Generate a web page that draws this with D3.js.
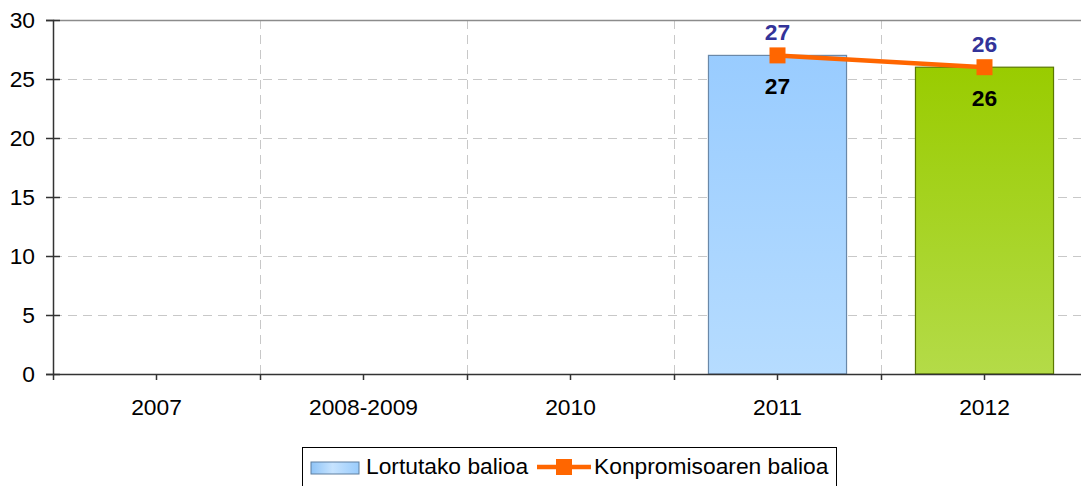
<!DOCTYPE html>
<html>
<head>
<meta charset="utf-8">
<script src="https://cdn.jsdelivr.net/npm/d3@7"></script>
<style>
  html, body { margin: 0; padding: 0; background: #fff; }
  svg { display: block; font-family: "Liberation Sans", Arial, sans-serif; }
</style>
</head>
<body>
<svg id="chart" width="1081" height="486"></svg>
<script>
// Chart data
const categories = ["2007", "2008-2009", "2010", "2011", "2012"];
const achievedValues = [null, null, null, 27, 26];     // Lortutako balioa (bars)
const commitmentValues = [null, null, null, 27, 26];   // Konpromisoaren balioa (line)
const yTickValues = [0, 5, 10, 15, 20, 25, 30];
const seriesNames = ["Lortutako balioa", "Konpromisoaren balioa"];

// Styling
const fontSize = 22.8;
const barFills = {
  "2011": { top: "#99CCFF", bottom: "#B6DCFF", stroke: "#6A88A8" },
  "2012": { top: "#99CC00", bottom: "#B4DB48", stroke: "#5A7800" }
};
const lineColor = "#FF6600";
const lineLabelColor = "#333399";

const svg = d3.select("#chart");
const margin = { left: 53, top: 20, right: 1088, bottom: 374 };

const x = d3.scaleBand().domain(categories).range([margin.left, margin.right]).padding(0);
const y = d3.scaleLinear().domain([0, 30]).range([margin.bottom, margin.top]);

const defs = svg.append("defs");
Object.entries(barFills).forEach(([key, c]) => {
  const g = defs.append("linearGradient").attr("id", "grad-" + key)
    .attr("x1", 0).attr("y1", 0).attr("x2", 0).attr("y2", 1);
  g.append("stop").attr("offset", "0%").attr("stop-color", c.top);
  g.append("stop").attr("offset", "100%").attr("stop-color", c.bottom);
});
const lg = defs.append("linearGradient").attr("id", "legend-grad")
  .attr("x1", 0).attr("y1", 0).attr("x2", 1).attr("y2", 0);
lg.append("stop").attr("offset", "0%").attr("stop-color", "#8FC4F7");
lg.append("stop").attr("offset", "45%").attr("stop-color", "#C6E3FF");
lg.append("stop").attr("offset", "100%").attr("stop-color", "#9ACCFC");

// Gridlines
const grid = svg.append("g");
grid.selectAll("line.h").data(yTickValues.filter(v => v > 0 && v < 30)).enter()
  .append("line")
  .attr("x1", margin.left).attr("x2", margin.right)
  .attr("y1", d => y(d) + 0.5).attr("y2", d => y(d) + 0.5)
  .attr("stroke", "#C8C8C8").attr("stroke-width", 1).attr("stroke-dasharray", "9,6");
grid.selectAll("line.v").data(categories.slice(1)).enter()
  .append("line")
  .attr("x1", d => Math.round(x(d)) + 0.5).attr("x2", d => Math.round(x(d)) + 0.5)
  .attr("y1", y(30)).attr("y2", y(0))
  .attr("stroke", "#C8C8C8").attr("stroke-width", 1).attr("stroke-dasharray", "9,6");
// Plot area top border
svg.append("line")
  .attr("x1", margin.left).attr("x2", margin.right)
  .attr("y1", y(30) + 0.5).attr("y2", y(30) + 0.5)
  .attr("stroke", "#8C8C8C").attr("stroke-width", 1.5);

// Bars
const barW = x.bandwidth() * 0.667;
const barData = categories.map((c, i) => ({ c, v: achievedValues[i] })).filter(d => d.v != null);
svg.append("g").selectAll("rect").data(barData).enter().append("rect")
  .attr("x", d => x(d.c) + (x.bandwidth() - barW) / 2)
  .attr("y", d => y(d.v))
  .attr("width", barW)
  .attr("height", d => y(0) - y(d.v))
  .attr("fill", d => `url(#grad-${d.c})`)
  .attr("stroke", d => barFills[d.c].stroke)
  .attr("stroke-width", 1.2);

// Bar value labels
svg.append("g").selectAll("text").data(barData).enter().append("text")
  .attr("x", d => x(d.c) + x.bandwidth() / 2)
  .attr("y", d => y(d.v) + 39)
  .attr("text-anchor", "middle")
  .attr("font-size", fontSize).attr("font-weight", "bold").attr("fill", "#000")
  .text(d => d.v);

// Axes
const yAxis = svg.append("g").attr("transform", `translate(${margin.left},0)`)
  .call(d3.axisLeft(y).tickValues(yTickValues).tickSize(7).tickPadding(11));
yAxis.select(".domain").attr("stroke", "#333").attr("stroke-width", 1.5);
yAxis.selectAll(".tick line").attr("stroke", "#333").attr("stroke-width", 1.5).attr("x2", 7).attr("x1", -7);
yAxis.selectAll(".tick text").attr("font-size", fontSize).attr("fill", "#000")
  .attr("font-family", "Liberation Sans, Arial, sans-serif");

const xAxis = svg.append("g").attr("transform", `translate(0,${margin.bottom})`)
  .call(d3.axisBottom(x).tickSize(6).tickSizeOuter(0).tickPadding(19));
xAxis.select(".domain").attr("stroke", "#333").attr("stroke-width", 1.5);
xAxis.selectAll(".tick line").attr("stroke", "#333").attr("stroke-width", 1.5);
xAxis.selectAll(".tick text").attr("font-size", fontSize).attr("fill", "#000")
  .attr("font-family", "Liberation Sans, Arial, sans-serif");
// Ticks at category boundaries
xAxis.selectAll("line.boundary").data(categories).enter().append("line")
  .attr("x1", d => Math.round(x(d)) + 0.5).attr("x2", d => Math.round(x(d)) + 0.5)
  .attr("y1", 0).attr("y2", 6)
  .attr("stroke", "#333").attr("stroke-width", 1.5);

// Commitment line with square markers
const lineData = categories.map((c, i) => ({ c, v: commitmentValues[i] })).filter(d => d.v != null);
const cx = d => x(d.c) + x.bandwidth() / 2;
svg.append("path").datum(lineData)
  .attr("d", d3.line().x(cx).y(d => y(d.v)))
  .attr("fill", "none").attr("stroke", lineColor).attr("stroke-width", 4.5);
svg.append("g").selectAll("rect").data(lineData).enter().append("rect")
  .attr("x", d => cx(d) - 8).attr("y", d => y(d.v) - 8)
  .attr("width", 16).attr("height", 16)
  .attr("fill", lineColor);
svg.append("g").selectAll("text").data(lineData).enter().append("text")
  .attr("x", cx).attr("y", d => y(d.v) - 15.5)
  .attr("text-anchor", "middle")
  .attr("font-size", fontSize).attr("font-weight", "bold").attr("fill", lineLabelColor)
  .text(d => d.v);

// Legend
const legend = svg.append("g");
legend.append("rect")
  .attr("x", 302.5).attr("y", 447.5).attr("width", 534).attr("height", 50)
  .attr("fill", "#fff").attr("stroke", "#000").attr("stroke-width", 1);
legend.append("rect")
  .attr("x", 311).attr("y", 462).attr("width", 48).attr("height", 12)
  .attr("fill", "url(#legend-grad)").attr("stroke", "#5F7F9F").attr("stroke-width", 1);
legend.append("text").attr("x", 366).attr("y", 474)
  .attr("font-size", fontSize).attr("fill", "#000").text(seriesNames[0]);
legend.append("line").attr("x1", 537).attr("x2", 591).attr("y1", 467).attr("y2", 467)
  .attr("stroke", lineColor).attr("stroke-width", 4.5);
legend.append("rect").attr("x", 556).attr("y", 459).attr("width", 16).attr("height", 16)
  .attr("fill", lineColor);
legend.append("text").attr("x", 594).attr("y", 474)
  .attr("font-size", fontSize).attr("fill", "#000").text(seriesNames[1]);
</script>
</body>
</html>
